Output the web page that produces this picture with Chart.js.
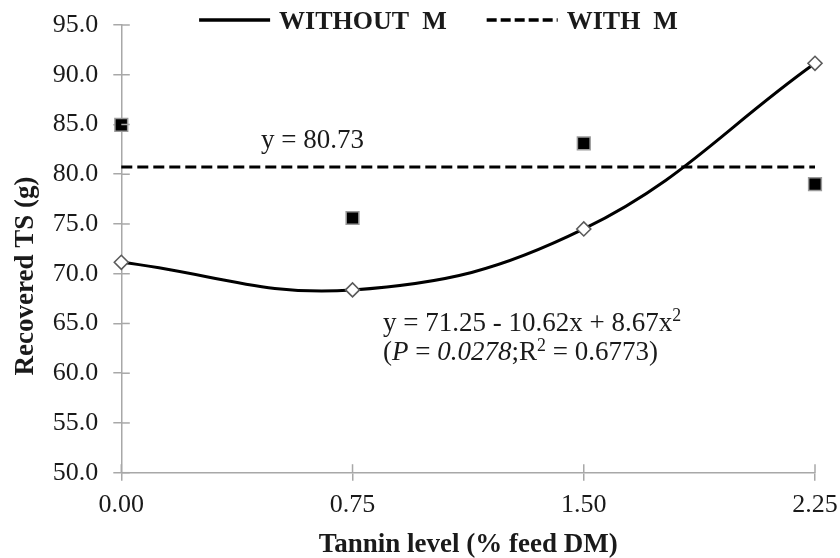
<!DOCTYPE html>
<html>
<head>
<meta charset="utf-8">
<script src="https://cdn.jsdelivr.net/npm/chart.js@4.4.1/dist/chart.umd.min.js"></script>
<style>
html,body{margin:0;padding:0;background:#ffffff;}
#wrap{width:840px;height:558px;}
</style>
</head>
<body>
<div id="wrap"><canvas id="c" width="840" height="558"></canvas></div>
<script>
// ---- data ----
const tanninLevels = [0, 0.75, 1.50, 2.25];
const withoutM = [71.15, 68.37, 74.5, 91.15];
const withM = [84.95, 75.6, 83.1, 79.0];
const withMMean = 80.73;
const xTickValues = [0, 0.75, 1.5, 2.25];
const xTickLabels = ['0.00', '0.75', '1.50', '2.25'];
const yTickValues = [50, 55, 60, 65, 70, 75, 80, 85, 90, 95];
const yTickLabels = ['50.0', '55.0', '60.0', '65.0', '70.0', '75.0', '80.0', '85.0', '90.0', '95.0'];
const seriesNames = ['WITHOUT  M', 'WITH  M'];
const xTitle = 'Tannin level (% feed DM)';
const yTitle = 'Recovered TS (g)';
const eqWithM = [{t: 'y = 80.73'}];
const eqWithoutLine1 = [{t: 'y = 71.25 - 10.62x + 8.67x'}, {t: '2', sup: true}];
const eqWithoutLine2 = [{t: '('}, {t: 'P', it: true}, {t: ' = '}, {t: '0.0278', it: true}, {t: ';R'}, {t: '2', sup: true}, {t: ' = 0.6773)'}];

const SERIF = '"Liberation Serif", "Times New Roman", serif';
const AXIS_GRAY = '#a8a8a8';
const TEXT = '#1a1a1a';

// ---- helper plugin: inner tick halves, legend, axis title, equations ----
function drawRich(ctx, segs, x, y, size) {
  let cx = x;
  segs.forEach(s => {
    const fs = s.sup ? size * 0.66 : size;
    ctx.font = (s.it ? 'italic ' : '') + fs + 'px ' + SERIF;
    const dy = s.sup ? -size * 0.36 : 0;
    ctx.fillText(s.t, cx, y + dy);
    cx += ctx.measureText(s.t).width;
  });
}

const decorPlugin = {
  id: 'decor',
  afterDraw(chart) {
    const ctx = chart.ctx;
    const xs = chart.scales.x, ys = chart.scales.y;
    const area = chart.chartArea;
    ctx.save();
    // inner halves of the crossing tick marks
    ctx.strokeStyle = AXIS_GRAY;
    ctx.lineWidth = 1.5;
    ys.ticks.forEach(t => {
      const py = ys.getPixelForValue(t.value);
      ctx.beginPath(); ctx.moveTo(area.left, py); ctx.lineTo(area.left + 8.5, py); ctx.stroke();
    });
    xs.ticks.forEach(t => {
      const px = xs.getPixelForValue(t.value);
      ctx.beginPath(); ctx.moveTo(px, area.bottom); ctx.lineTo(px, area.bottom - 8.5); ctx.stroke();
    });

    // legend (drawn above the plot, overlapping the top like the reference)
    ctx.fillStyle = TEXT;
    ctx.textBaseline = 'alphabetic';
    ctx.textAlign = 'left';
    ctx.font = 'bold 26px ' + SERIF;
    const lineLen = 71, gap = 9, itemGap = 40;
    const w1 = ctx.measureText(seriesNames[0]).width;
    const w2 = ctx.measureText(seriesNames[1]).width;
    const total = lineLen + gap + w1 + itemGap + lineLen + gap + w2;
    let lx = 438.5 - total / 2;
    const ly = 20;
    ctx.strokeStyle = '#000';
    ctx.lineWidth = 3.5;
    ctx.setLineDash([]);
    ctx.beginPath(); ctx.moveTo(lx, ly); ctx.lineTo(lx + lineLen, ly); ctx.stroke();
    ctx.fillText(seriesNames[0], lx + lineLen + gap, ly + 8.5);
    lx += lineLen + gap + w1 + itemGap;
    ctx.setLineDash([10, 4]);
    ctx.beginPath(); ctx.moveTo(lx, ly); ctx.lineTo(lx + lineLen, ly); ctx.stroke();
    ctx.setLineDash([]);
    ctx.fillText(seriesNames[1], lx + lineLen + gap, ly + 8.5);

    // y axis title
    ctx.save();
    ctx.translate(33, 276);
    ctx.rotate(-Math.PI / 2);
    ctx.textAlign = 'center';
    ctx.font = 'bold 27px ' + SERIF;
    ctx.fillText(yTitle, 0, 0);
    ctx.restore();

    // equations, anchored in data space
    ctx.fillStyle = TEXT;
    ctx.textAlign = 'left';
    drawRich(ctx, eqWithM, xs.getPixelForValue(0.453), ys.getPixelForValue(82.6), 27);
    drawRich(ctx, eqWithoutLine1, xs.getPixelForValue(0.849), ys.getPixelForValue(64.27), 27);
    drawRich(ctx, eqWithoutLine2, xs.getPixelForValue(0.849), ys.getPixelForValue(61.3), 27);
    ctx.restore();
  }
};

const withoutPts = tanninLevels.map((x, i) => ({x: x, y: withoutM[i]}));
const withPts = tanninLevels.map((x, i) => ({x: x, y: withM[i]}));
const meanPts = [{x: tanninLevels[0], y: withMMean}, {x: tanninLevels[tanninLevels.length - 1], y: withMMean}];

new Chart(document.getElementById('c'), {
  type: 'line',
  data: {
    datasets: [
      {
        label: seriesNames[1] + ' (mean)',
        data: meanPts,
        borderColor: '#000',
        borderWidth: 3,
        borderDash: [11, 5],
        pointRadius: 0,
        fill: false,
        clip: false,
        order: 3
      },
      {
        label: seriesNames[0],
        data: withoutPts,
        borderColor: '#000',
        borderWidth: 3,
        tension: 0.4,
        fill: false,
        pointStyle: 'rectRot',
        pointRadius: 7,
        pointBackgroundColor: '#ffffff',
        pointBorderColor: '#5a5a5a',
        pointBorderWidth: 1.6,
        clip: false,
        order: 1
      },
      {
        label: seriesNames[1],
        data: withPts,
        showLine: false,
        pointStyle: 'rect',
        pointRadius: 9,
        pointBackgroundColor: '#000000',
        pointBorderColor: '#9a9a9a',
        pointBorderWidth: 1.5,
        clip: false,
        order: 2
      }
    ]
  },
  options: {
    responsive: false,
    animation: false,
    devicePixelRatio: 1,
    layout: {padding: {top: 25, right: 25, bottom: 0, left: 0}},
    plugins: {
      legend: {display: false},
      tooltip: {enabled: false}
    },
    scales: {
      x: {
        type: 'linear',
        min: 0,
        max: 2.25,
        afterBuildTicks: s => { s.ticks = xTickValues.map(v => ({value: v})); },
        afterFit: s => { s.height = 85.3; s.paddingLeft = 0; s.paddingRight = 0; },
        ticks: {
          callback: (v, i) => xTickLabels[i],
          font: {family: SERIF, size: 26},
          color: TEXT,
          padding: 9,
          maxRotation: 0
        },
        grid: {drawOnChartArea: false, drawTicks: true, tickLength: 8, color: AXIS_GRAY, lineWidth: 1.5},
        border: {color: AXIS_GRAY, width: 1.5},
        title: {display: true, text: xTitle, font: {family: SERIF, size: 27, weight: 'bold'}, color: TEXT, padding: {top: 0, bottom: -3}}
      },
      y: {
        type: 'linear',
        min: 50,
        max: 95,
        afterBuildTicks: s => { s.ticks = yTickValues.map(v => ({value: v})); },
        afterFit: s => { s.width = 121.3; s.paddingTop = 0; s.paddingBottom = 0; },
        ticks: {
          callback: (v, i) => yTickLabels[i],
          font: {family: SERIF, size: 26},
          color: TEXT,
          padding: 15
        },
        grid: {drawOnChartArea: false, drawTicks: true, tickLength: 8, color: AXIS_GRAY, lineWidth: 1.5},
        border: {color: AXIS_GRAY, width: 1.5}
      }
    }
  },
  plugins: [decorPlugin]
});
</script>
</body>
</html>
